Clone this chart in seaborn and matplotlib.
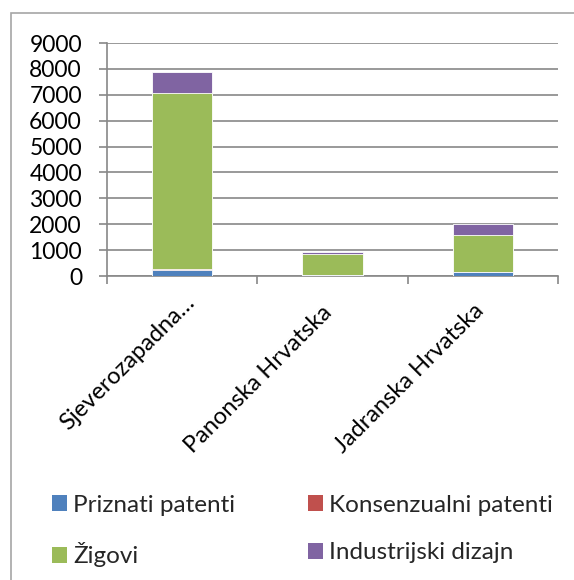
import numpy as np
import pandas as pd
import matplotlib
matplotlib.use('Agg')
import matplotlib.pyplot as plt
from matplotlib.patches import Patch, Rectangle
from matplotlib.transforms import ScaledTranslation
import seaborn as sns

# --- Data ---
regions = ['Sjeverozapadna…', 'Panonska Hrvatska', 'Jadranska Hrvatska']
series = ['Priznati patenti', 'Konsenzualni patenti', 'Žigovi', 'Industrijski dizajn']
priznati = [230, 20, 150]
konsenzualni = [50, 5, 10]
zigovi = [6800, 810, 1420]
dizajn = [800, 100, 410]
colors = ['#4F81BD', '#C0504D', '#9BBB59', '#8064A2']

sns.set_theme(style='white')
plt.rcParams['font.family'] = ['Lato', 'DejaVu Sans']

df = pd.DataFrame({'region': regions,
                   series[0]: priznati, series[1]: konsenzualni,
                   series[2]: zigovi, series[3]: dizajn})
cum = df[series].cumsum(axis=1)

fig = plt.figure(figsize=(5.74, 5.80), dpi=100)
ax = fig.add_axes([107 / 574, 1 - 276 / 580, 451 / 574, 233 / 580])

# draw stacked bars from the top segment down
for name, c in reversed(list(zip(series, colors))):
    sns.barplot(x=df['region'], y=cum[name], color=c, width=0.4,
                saturation=1, edgecolor='white', linewidth=0.6, ax=ax, zorder=3)

ax.set_ylim(0, 9000)
ax.set_xlim(-0.5, 2.5)
ax.set_yticks(np.arange(0, 9001, 1000))
ax.yaxis.grid(True, color='#888888', linewidth=1.2, zorder=0)
ax.set_axisbelow(True)
ax.set_xlabel('')
ax.set_ylabel('')

for s in ['top', 'right']:
    ax.spines[s].set_visible(False)
for s in ['left', 'bottom']:
    ax.spines[s].set_color('#888888')
    ax.spines[s].set_linewidth(1.2)

ax.tick_params(axis='y', left=True, length=6, width=1.2, color='#888888',
               labelsize=16.5, labelcolor='black', pad=12)
ax.set_xticks([-0.5, 0.5, 1.5, 2.5], minor=True)
ax.tick_params(axis='x', which='minor', bottom=True, length=6, width=1.2,
               color='#888888', direction='out')
ax.tick_params(axis='x', which='major', bottom=False, pad=13)
ax.set_xticks(range(len(regions)))
ax.set_xticklabels(regions, rotation=45, ha='right', va='center',
                   rotation_mode='anchor', fontsize=17, color='black')
# nudge labels (px) to sit where the original places them
nudges = [(9, 3), (-4, -7), (-2, -5)]
for lbl, (dx, dy) in zip(ax.get_xticklabels(), nudges):
    lbl.set_transform(lbl.get_transform()
                      + ScaledTranslation(dx / 100, dy / 100, fig.dpi_scale_trans))

# outer chart border
fig.patches.append(Rectangle((11 / 574, -0.05), 1.2, 1 - 13 / 580 + 0.05,
                             transform=fig.transFigure, fill=False,
                             edgecolor='#A6A6A6', linewidth=1.2))

# legend filled row-wise like the original
handles = [Patch(facecolor=c, edgecolor='none', label=s) for s, c in zip(series, colors)]
order = [0, 2, 1, 3]
fig.legend(handles=[handles[i] for i in order], ncol=2, frameon=False, fontsize=17.5,
           loc='center left', bbox_to_anchor=(52 / 574, 1 - 531 / 580),
           borderpad=0, borderaxespad=0,
           handlelength=0.62, handleheight=0.62, handletextpad=0.25,
           columnspacing=3.0, labelspacing=1.1)

plt.savefig('out.png', dpi=100)
